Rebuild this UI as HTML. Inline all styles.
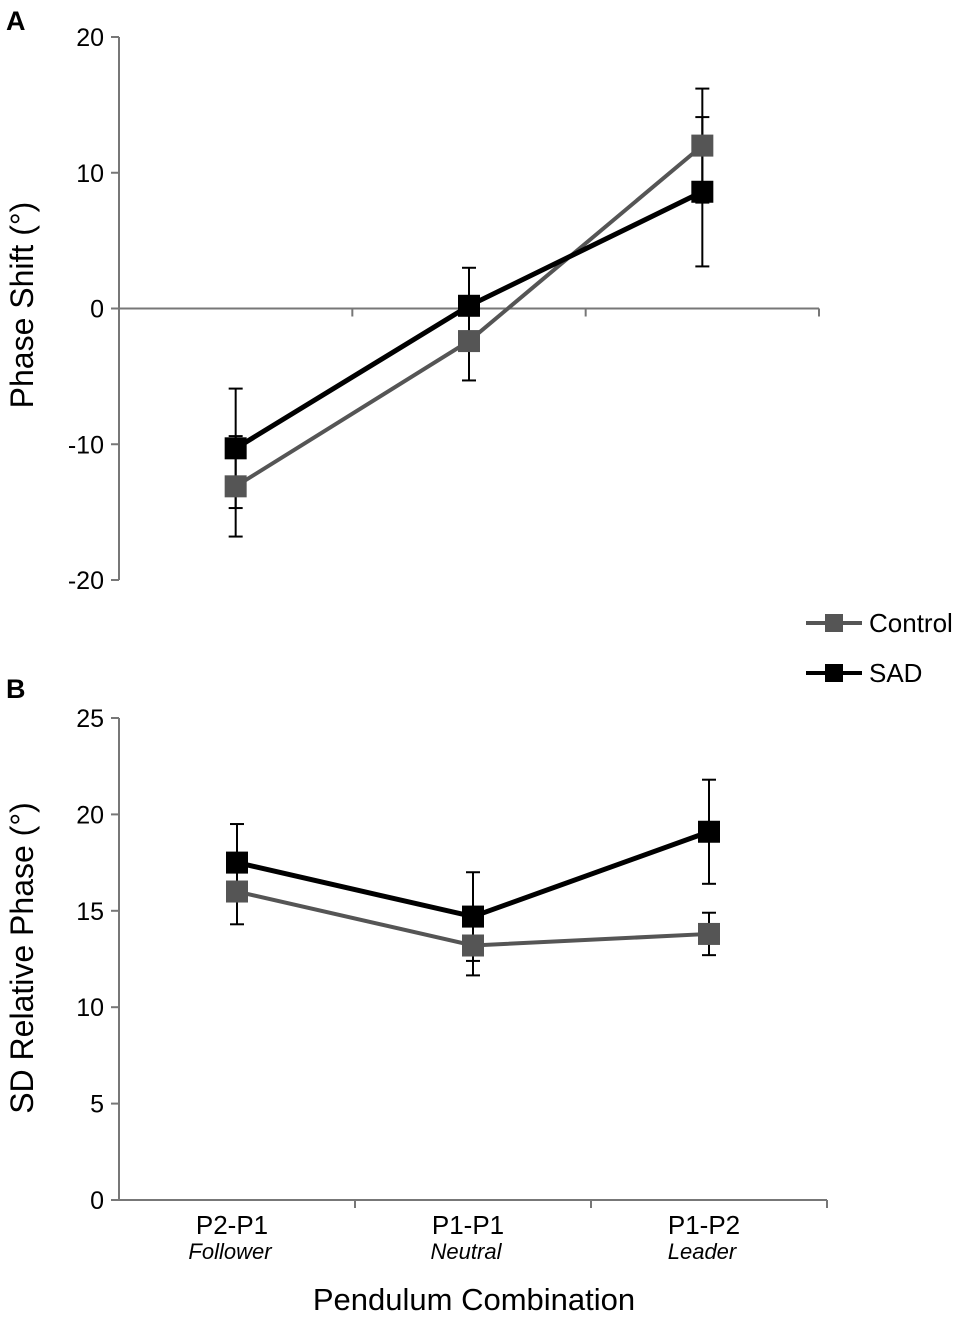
<!DOCTYPE html>
<html><head><meta charset="utf-8"><style>
body{margin:0;background:#fff;}
svg{display:block;font-family:"Liberation Sans",sans-serif;}
</style></head><body>
<svg id="c" width="957" height="1317" xmlns="http://www.w3.org/2000/svg">
<text x="6" y="30" font-size="27" font-weight="bold">A</text>
<text x="6" y="698" font-size="27" font-weight="bold">B</text>
<text transform="translate(33,305) rotate(-90)" text-anchor="middle" font-size="32">Phase Shift (°)</text>
<text transform="translate(33,958) rotate(-90)" text-anchor="middle" font-size="32">SD Relative Phase (°)</text>
<text x="474" y="1310" text-anchor="middle" font-size="31">Pendulum Combination</text>
<g>
<line x1="806" y1="623" x2="862" y2="623" stroke="#555" stroke-width="4"/>
<rect x="825" y="614" width="18" height="18" fill="#555"/>
<text x="869" y="632" font-size="26">Control</text>
<line x1="806" y1="673" x2="862" y2="673" stroke="#000" stroke-width="4"/>
<rect x="825" y="664" width="18" height="18" fill="#000"/>
<text x="869" y="682" font-size="26">SAD</text>
</g>
<g id="g"></g>
</svg>
<script>
const categories=["P2-P1","P1-P1","P1-P2"];
const subLabels=["Follower","Neutral","Leader"];
const aControl=[-13.1,-2.4,12.0];
const aControlErr=[3.7,2.9,4.2];
const aSad=[-10.3,0.2,8.6];
const aSadErr=[4.4,2.8,5.5];
const bControl=[16.0,13.2,13.8];
const bControlErr=[1.7,1.55,1.1];
const bSad=[17.5,14.7,19.1];
const bSadErr=[2.0,2.3,2.7];
const aTicks=[20,10,0,-10,-20];
const bTicks=[25,20,15,10,5,0];
const NS="http://www.w3.org/2000/svg";
const g=document.getElementById('g');
function mk(t,a){const e=document.createElementNS(NS,t);for(const k in a)e.setAttribute(k,a[k]);g.appendChild(e);return e;}
function panel(p,yMin,yMax,yTop,yBot,xL,xR,ticks,ctrl,ce,sad,se,axisY){
  const y=v=>yBot-(v-yMin)/(yMax-yMin)*(yBot-yTop);
  const band=(xR-xL)/categories.length;
  const x=i=>xL+band*(i+0.5);
  let e=mk('line',{x1:xL,y1:yTop,x2:xL,y2:yBot,stroke:'#777','stroke-width':2});
  
  
  ticks.forEach(t=>{
    mk('line',{x1:xL-8,y1:y(t),x2:xL,y2:y(t),stroke:'#777','stroke-width':2});
    const tx=mk('text',{x:xL-15,y:y(t)+9,'text-anchor':'end','font-size':25});tx.textContent=t;
    
    
  });
  const ay=y(axisY);
  e=mk('line',{x1:xL,y1:ay,x2:xR,y2:ay,stroke:'#777','stroke-width':2});
  
  
  for(let i=1;i<=categories.length;i++)mk('line',{x1:xL+band*i,y1:ay,x2:xL+band*i,y2:ay+8,stroke:'#777','stroke-width':2});
  [[ctrl,ce],[sad,se]].forEach(([vals,errs])=>{
    vals.forEach((v,i)=>{
      mk('line',{x1:x(i),y1:y(v-errs[i]),x2:x(i),y2:y(v+errs[i]),stroke:'#000','stroke-width':2});
      mk('line',{x1:x(i)-7,y1:y(v-errs[i]),x2:x(i)+7,y2:y(v-errs[i]),stroke:'#000','stroke-width':2});
      mk('line',{x1:x(i)-7,y1:y(v+errs[i]),x2:x(i)+7,y2:y(v+errs[i]),stroke:'#000','stroke-width':2});
    });
  });
  [[ctrl,'#555','control'],[sad,'#000','sad']].forEach(([vals,col,nm])=>{
    const pl=mk('polyline',{points:vals.map((v,i)=>x(i)+','+y(v)).join(' '),fill:'none',stroke:col,'stroke-width':nm=='sad'?5:4});
    
    
    vals.forEach((v,i)=>{
      const r=mk('rect',{x:x(i)-11,y:y(v)-11,width:22,height:22,fill:col});
      
      
    });
  });
  return x;
}
panel('a',-20,20,37,580,119,819,aTicks,aControl,aControlErr,aSad,aSadErr,0);
const xb=panel('b',0,25,718,1200,119,827,bTicks,bControl,bControlErr,bSad,bSadErr,0);
categories.forEach((c,i)=>{
  let t=mk('text',{x:xb(i)-5,y:1234,'text-anchor':'middle','font-size':26});t.textContent=c;
  
  
  t=mk('text',{x:xb(i)-7,y:1259,'text-anchor':'middle','font-size':22,'font-style':'italic'});t.textContent=subLabels[i];
  
  
});
</script>
</body></html>
